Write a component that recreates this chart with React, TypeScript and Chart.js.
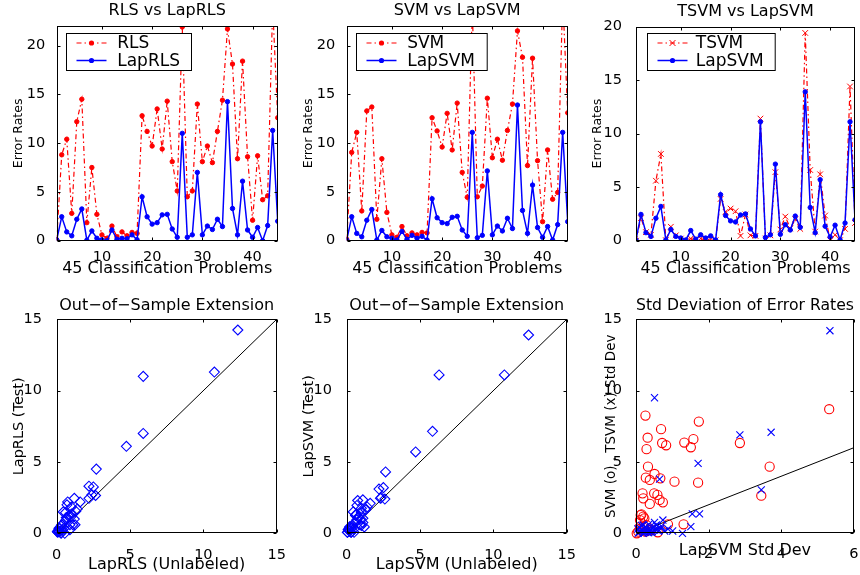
import React, { useEffect, useRef } from "react";
import { Chart, registerables } from "chart.js";

Chart.register(...registerables);

const FONT = "'DejaVu Sans', 'Liberation Sans', sans-serif";
const RED = "#ff0000";
const BLUE = "#0000ff";
const BLACK = "#000000";
const DASHDOT = [5, 3, 1.5, 3];

// ---------- data ----------
const problems = [
  1, 2, 3, 4, 5, 6, 7, 8, 9, 10, 11, 12, 13, 14, 15, 16, 17, 18, 19, 20, 21, 22, 23,
  24, 25, 26, 27, 28, 29, 30, 31, 32, 33, 34, 35, 36, 37, 38, 39, 40, 41, 42, 43, 44, 45,
];

const rls = [
  0.1, 8.8, 10.4, 2.8, 12.2, 14.5, 1.85, 7.5, 2.7, 0.6, 0.25, 1.5, 0.4, 0.9, 0.5, 0.85, 0.75,
  12.8, 11.2, 9.7, 13.5, 9.4, 14.3, 8.1, 5.1, 21.9, 4.5, 5.1, 14.0, 8.1, 9.7, 8.0, 11.2, 14.4,
  21.7, 18.1, 8.4, 18.4, 8.6, 2.1, 8.7, 4.2, 4.6, 24, 12.6,
];
const lapRls = [
  0.1, 2.45, 0.9, 0.5, 2.2, 3.25, 0.05, 1.0, 0.25, 0.1, 0.0, 1.1, 0.15, 0.25, 0.2, 0.6, 0.1,
  4.5, 2.45, 1.7, 1.85, 2.65, 2.7, 1.2, 0.35, 11.0, 0.35, 0.6, 7.0, 0.6, 1.5, 1.15, 2.2, 1.45,
  14.25, 3.3, 0.6, 6.1, 1.1, 0.35, 1.35, 0.0, 1.55, 11.3, 2.0,
];
const svm = [
  0.15, 9.05, 11.1, 3.05, 13.3, 13.7, 2.2, 8.4, 2.9, 0.6, 0.35, 1.45, 0.5, 0.8, 0.6, 0.85, 0.8,
  12.6, 11.25, 9.6, 13.05, 9.3, 14.1, 7.0, 4.45, 24, 4.5, 5.6, 14.6, 8.5, 10.4, 8.25, 11.3, 14.0,
  21.5, 18.8, 7.7, 18.7, 8.2, 1.95, 9.3, 4.25, 4.95, 25, 13.1,
];
const lapSvm = [
  0.07, 2.45, 0.75, 0.4, 2.1, 3.2, 0.07, 1.05, 0.4, 0.25, 0.07, 0.95, 0.15, 0.55, 0.25, 0.45, 0.07,
  4.3, 2.35, 1.85, 1.75, 2.4, 2.5, 1.1, 0.45, 11.1, 0.3, 0.55, 7.15, 0.6, 1.5, 1.0, 2.3, 1.25,
  13.9, 3.1, 0.75, 5.7, 1.35, 0.35, 1.45, 0.07, 1.65, 11.1, 1.95,
];
const tsvm = [
  0.0, 2.1, 0.8, 0.55, 5.6, 8.1, 0.05, 1.3, 0.5, 0.2, 0.0, 0.2, 0.05, 0.2, 0.05, 0.15, 0.05,
  3.9, 2.7, 3.0, 2.75, 0.45, 2.45, 0.5, 0.45, 11.4, 0.2, 0.5, 6.4, 1.05, 2.25, 1.15, 2.0, 1.1,
  19.4, 6.6, 0.85, 6.2, 2.35, 0.05, 0.55, 0.05, 1.1, 14.4, 1.65,
];

// out-of-sample: error on unlabeled (x) vs test (y = lapRls / lapSvm)
const lapRlsUnlabeled = [
  0.05, 2.2, 0.6, 0.3, 1.6, 2.5, 0.3, 1.2, 0.4, 0.15, 0.55, 0.7, 0.2, 0.9, 0.1, 1.25, 0.05,
  2.7, 1.2, 1.4, 1.0, 2.65, 2.4, 0.8, 0.2, 5.9, 0.5, 0.35, 5.9, 0.9, 0.45, 0.95, 0.75, 0.6,
  12.35, 2.2, 1.1, 4.75, 0.65, 0.15, 1.0, 0.3, 1.3, 10.75, 0.7,
];
const lapSvmUnlabeled = [
  0.05, 2.3, 0.6, 0.3, 1.6, 2.5, 0.3, 1.1, 0.4, 0.15, 0.5, 0.7, 0.2, 1.0, 0.1, 1.2, 0.05,
  2.65, 1.1, 1.4, 1.0, 2.6, 2.35, 0.8, 0.2, 6.3, 0.5, 0.35, 5.85, 0.9, 0.45, 0.95, 0.75, 0.6,
  12.4, 2.2, 1.1, 4.7, 0.65, 0.15, 1.0, 0.3, 1.3, 10.75, 0.7,
];

// std deviation scatter
const svmStdX = [
  5.32, 1.73, 0.26, 0.69, 0.32, 0.72, 0.83, 1.33, 1.58, 1.51, 2.86, 0.29, 0.33, 3.68, 0.51,
  0.67, 0.27, 0.38, 1.06, 1.71, 0.18, 0.5, 0.59, 0.2, 0.65, 0.74, 0.38, 3.45, 0.15, 0.2, 0.11,
  0.29, 0.88, 1.31, 0.06, 0.15, 0.2, 0.02, 0.35, 0.23, 0.13, 0.42, 0.6, 0.11, 0.26,
];
const svmStdY = [
  8.7, 7.83, 8.25, 7.3, 6.7, 6.33, 6.17, 6.36, 6.6, 6.03, 6.33, 5.9, 4.67, 4.67, 4.16, 3.85,
  3.9, 3.74, 3.62, 3.55, 2.8, 2.8, 2.69, 2.45, 2.34, 2.17, 2.06, 2.64, 1.33, 1.17, 0.93, 0.58,
  0.63, 0.63, 0.12, 0.23, 0.4, 0.0, 0.23, 1.05, 1.28, 0.23, 0.07, 0.47, 0.12,
];
const tsvmStdX = [
  5.34, 0.51, 2.86, 3.72, 1.71, 0.65, 3.45, 1.55, 1.75, 1.51, 1.28, 0.74, 0.51, 0.35, 0.2,
  0.69, 1.01, 0.79, 0.6, 0.42, 0.24, 0.11, 0.06, 0.29, 0.47, 0.15, 0.56, 0.88, 0.2, 0.38, 0.1,
  0.3, 0.45, 0.55, 0.7, 0.25, 0.35, 0.05, 0.15, 0.4, 0.62, 0.33, 0.18, 0.08, 0.5,
];
const tsvmStdY = [
  14.2, 9.5, 6.9, 7.08, 4.9, 3.8, 3.04, 1.36, 1.36, 0.47, 0.0, 0.93, 0.77, 0.63, 0.58, 0.35,
  0.16, 0.16, 0.3, 0.07, 0.07, 0.12, 0.0, 0.35, 0.47, 0.23, 0.58, 0.3, 0.0, 0.12, 0.4, 0.2,
  0.1, 0.25, 0.5, 0.45, 0.05, 0.3, 0.55, 0.28, 0.15, 0.05, 0.18, 0.08, 0.22,
];

const problemTicks = [10, 20, 30, 40];
const errorTicks = [0, 5, 10, 15, 20];
const squareTicks = [0, 5, 10, 15];
const stdXTicks = [0, 2, 4, 6];
const diagonal15 = [0, 15];
const diagonal6 = [0, 6];

// ---------- helpers ----------
const toXY = (xs: number[], ys: number[]) => xs.map((x, i) => ({ x, y: ys[i] }));
const font = (size: number) => ({ family: FONT, size, weight: "normal" as const });

const framePlugin = {
  id: "matlabFrame",
  afterDatasetsDraw(chart: any) {
    const { ctx, chartArea: a, scales } = chart;
    const l = Math.round(a.left) + 0.5;
    const r = Math.round(a.right) - 0.5;
    const t = Math.round(a.top) + 0.5;
    const b = Math.round(a.bottom) - 0.5;
    ctx.save();
    ctx.setLineDash([]);
    ctx.strokeStyle = BLACK;
    ctx.lineWidth = 1;
    ctx.strokeRect(l, t, r - l, b - t);
    const L = 3;
    ctx.beginPath();
    for (const tk of scales.x.ticks) {
      const px = Math.round(scales.x.getPixelForValue(tk.value)) + 0.5;
      ctx.moveTo(px, b);
      ctx.lineTo(px, b - L);
      ctx.moveTo(px, t);
      ctx.lineTo(px, t + L);
    }
    for (const tk of scales.y.ticks) {
      const py = Math.round(scales.y.getPixelForValue(tk.value)) + 0.5;
      ctx.moveTo(l, py);
      ctx.lineTo(l + L, py);
      ctx.moveTo(r, py);
      ctx.lineTo(r - L, py);
    }
    ctx.stroke();
    ctx.restore();
  },
};

type LegendItem = { label: string; color: string; dash: number[]; marker: "dot" | "x" };

function boxLegend(items: LegendItem[], dx: number, dy: number, w: number, textX: number) {
  return {
    id: "boxLegend",
    afterDraw(chart: any) {
      const { ctx, chartArea: a } = chart;
      const x0 = Math.round(a.left + dx) + 0.5;
      const y0 = Math.round(a.top + dy) + 0.5;
      const h = 37;
      ctx.save();
      ctx.fillStyle = "#ffffff";
      ctx.fillRect(x0, y0, w, h);
      ctx.strokeStyle = BLACK;
      ctx.lineWidth = 1;
      ctx.setLineDash([]);
      ctx.strokeRect(x0, y0, w, h);
      items.forEach((it, k) => {
        const cy = y0 + 9.5 + k * 17.5;
        ctx.strokeStyle = it.color;
        ctx.lineWidth = it.dash.length ? 1.2 : 1.5;
        ctx.setLineDash(it.dash);
        ctx.beginPath();
        ctx.moveTo(x0 + 10, cy);
        ctx.lineTo(x0 + 40, cy);
        ctx.stroke();
        ctx.setLineDash([]);
        const mx = x0 + 25;
        if (it.marker === "dot") {
          ctx.fillStyle = it.color;
          ctx.beginPath();
          ctx.arc(mx, cy, 2.6, 0, Math.PI * 2);
          ctx.fill();
        } else {
          ctx.lineWidth = 1;
          ctx.beginPath();
          ctx.moveTo(mx - 3, cy - 3);
          ctx.lineTo(mx + 3, cy + 3);
          ctx.moveTo(mx + 3, cy - 3);
          ctx.lineTo(mx - 3, cy + 3);
          ctx.stroke();
        }
        ctx.fillStyle = BLACK;
        ctx.font = `17px ${FONT}`;
        ctx.textAlign = "left";
        ctx.textBaseline = "middle";
        ctx.fillText(it.label, x0 + textX, cy + 1);
      });
      ctx.restore();
    },
  };
}

type Spec = {
  type: "line" | "scatter";
  datasets: any[];
  plugins: any[];
  title: string;
  titlePad: { top: number; bottom: number };
  xTitle: string;
  xTitleSize: number;
  xTitlePadBottom: number;
  yTitle: string;
  yTitleSize: number;
  yTitlePadTop: number;
  xMin: number;
  xMax: number;
  yMin: number;
  yMax: number;
  xTicks: number[];
  yTicks: number[];
  xTickPad: number;
  yTickPad: number;
  yAxisWidth: number;
  xAxisHeight: number;
  padRight: number;
};

function buildConfig(s: Spec): any {
  return {
    type: s.type,
    data: { datasets: s.datasets },
    plugins: s.plugins,
    options: {
      animation: false,
      responsive: false,
      maintainAspectRatio: false,
      events: [],
      layout: { padding: { left: 0, right: s.padRight, top: 0, bottom: 0 } },
      plugins: {
        legend: { display: false },
        tooltip: { enabled: false },
        title: {
          display: true,
          text: s.title,
          fullSize: false,
          color: BLACK,
          font: font(16),
          padding: s.titlePad,
        },
      },
      scales: {
        x: {
          type: "linear",
          min: s.xMin,
          max: s.xMax,
          grid: { display: false },
          border: { display: false },
          ticks: {
            color: BLACK,
            font: font(14.5),
            padding: s.xTickPad,
            maxRotation: 0,
            autoSkip: false,
          },
          title: {
            display: true,
            text: s.xTitle,
            color: BLACK,
            font: font(s.xTitleSize),
            padding: { top: 0, bottom: s.xTitlePadBottom },
          },
          afterBuildTicks: (sc: any) => {
            sc.ticks = s.xTicks.map((v) => ({ value: v }));
          },
          afterFit: (sc: any) => {
            sc.height = s.xAxisHeight;
            sc.paddingLeft = 0;
            sc.paddingRight = 0;
          },
        },
        y: {
          type: "linear",
          min: s.yMin,
          max: s.yMax,
          grid: { display: false },
          border: { display: false },
          ticks: { color: BLACK, font: font(14.5), padding: s.yTickPad, autoSkip: false },
          title: {
            display: true,
            text: s.yTitle,
            color: BLACK,
            font: font(s.yTitleSize),
            padding: { top: s.yTitlePadTop, bottom: 0 },
          },
          afterBuildTicks: (sc: any) => {
            sc.ticks = s.yTicks.map((v) => ({ value: v }));
          },
          afterFit: (sc: any) => {
            sc.width = s.yAxisWidth;
            sc.paddingTop = 0;
            sc.paddingBottom = 0;
          },
        },
      },
    },
  };
}

function lineSet(label: string, xs: number[], ys: number[], color: string, dashed: boolean, marker: "dot" | "x", order: number) {
  return {
    label,
    data: toXY(xs, ys),
    borderColor: color,
    backgroundColor: color,
    borderWidth: dashed ? 1.2 : 1.5,
    borderDash: dashed ? DASHDOT : [],
    pointStyle: marker === "dot" ? "circle" : "crossRot",
    pointRadius: marker === "dot" ? 2.2 : 4,
    pointBorderWidth: 1,
    pointBackgroundColor: color,
    pointBorderColor: color,
    tension: 0,
    fill: false,
    order,
  };
}

function diagSet(ends: number[]) {
  return {
    label: "y = x",
    type: "line",
    data: toXY(ends, ends),
    borderColor: BLACK,
    borderWidth: 1,
    pointRadius: 0,
    showLine: true,
    fill: false,
    order: 5,
  };
}

function markerSet(label: string, xs: number[], ys: number[], color: string, style: string, radius: number, order: number) {
  return {
    label,
    data: toXY(xs, ys),
    borderColor: color,
    backgroundColor: "rgba(0,0,0,0)",
    pointStyle: style,
    pointRadius: radius,
    pointBorderWidth: 1.1,
    pointBorderColor: color,
    pointBackgroundColor: "rgba(0,0,0,0)",
    showLine: false,
    clip: 6,
    order,
  };
}

const topCommon = {
  type: "line" as const,
  titlePad: { top: 1.1, bottom: 5.7 },
  xTitle: "45 Classification Problems",
  xTitleSize: 16,
  xTitlePadBottom: 6.4,
  yTitle: "Error Rates",
  yTitleSize: 12.5,
  xMin: 1,
  xMax: 45,
  xTicks: problemTicks,
  yTicks: errorTicks,
  yMin: 0,
  xTickPad: 0,
  xAxisHeight: 44.3,
};

const panels = [
  {
    left: 0, top: 0, width: 290, height: 285,
    spec: {
      ...topCommon,
      title: "RLS vs LapRLS",
      yMax: 22,
      yTitlePadTop: 10.8,
      yTickPad: 3.4,
      yAxisWidth: 56.7,
      padRight: 12.3,
      datasets: [
        lineSet("LapRLS", problems, lapRls, BLUE, false, "dot", 0),
        lineSet("RLS", problems, rls, RED, true, "dot", 1),
      ],
      plugins: [
        framePlugin,
        boxLegend(
          [
            { label: "RLS", color: RED, dash: DASHDOT, marker: "dot" },
            { label: "LapRLS", color: BLUE, dash: [], marker: "dot" },
          ],
          9.5, 7.3, 125, 50.7
        ),
      ],
    },
  },
  {
    left: 290, top: 0, width: 290, height: 285,
    spec: {
      ...topCommon,
      title: "SVM vs LapSVM",
      yMax: 22,
      yTitlePadTop: 10.8,
      yTickPad: 3.4,
      yAxisWidth: 56.7,
      padRight: 12.3,
      datasets: [
        lineSet("LapSVM", problems, lapSvm, BLUE, false, "dot", 0),
        lineSet("SVM", problems, svm, RED, true, "dot", 1),
      ],
      plugins: [
        framePlugin,
        boxLegend(
          [
            { label: "SVM", color: RED, dash: DASHDOT, marker: "dot" },
            { label: "LapSVM", color: BLUE, dash: [], marker: "dot" },
          ],
          9.3, 7.3, 130.7, 50.7
        ),
      ],
    },
  },
  {
    left: 580, top: 0, width: 280, height: 285,
    spec: {
      ...topCommon,
      titlePad: { top: 2, bottom: 5.3 },
      title: "TSVM vs LapSVM",
      yMax: 20,
      yTitlePadTop: 10,
      yTickPad: 6,
      yAxisWidth: 56,
      padRight: 2.3,
      datasets: [
        lineSet("LapSVM", problems, lapSvm, BLUE, false, "dot", 0),
        lineSet("TSVM", problems, tsvm, RED, true, "x", 1),
      ],
      plugins: [
        framePlugin,
        boxLegend(
          [
            { label: "TSVM", color: RED, dash: DASHDOT, marker: "x" },
            { label: "LapSVM", color: BLUE, dash: [], marker: "dot" },
          ],
          10.7, 6.2, 127.7, 48.3
        ),
      ],
    },
  },
  {
    left: 0, top: 285, width: 290, height: 290,
    spec: {
      type: "scatter" as const,
      title: "Out\u2212of\u2212Sample Extension",
      titlePad: { top: 11.1, bottom: 4 },
      xTitle: "LapRLS (Unlabeled)",
      xTitleSize: 16,
      xTitlePadBottom: 0.4,
      yTitle: "LapRLS (Test)",
      yTitleSize: 14.5,
      yTitlePadTop: 10.6,
      xMin: 0, xMax: 15, yMin: 0, yMax: 15,
      xTicks: squareTicks, yTicks: squareTicks,
      xTickPad: 5.3, yTickPad: 6.7,
      yAxisWidth: 56.7, xAxisHeight: 41.7, padRight: 13.3,
      datasets: [
        markerSet("LapRLS", lapRlsUnlabeled, lapRls, BLUE, "rectRot", 5, 0),
        diagSet(diagonal15),
      ],
      plugins: [framePlugin],
    },
  },
  {
    left: 290, top: 285, width: 290, height: 290,
    spec: {
      type: "scatter" as const,
      title: "Out\u2212of\u2212Sample Extension",
      titlePad: { top: 11.1, bottom: 4 },
      xTitle: "LapSVM (Unlabeled)",
      xTitleSize: 16,
      xTitlePadBottom: 0.4,
      yTitle: "LapSVM (Test)",
      yTitleSize: 14.5,
      yTitlePadTop: 10.6,
      xMin: 0, xMax: 15, yMin: 0, yMax: 15,
      xTicks: squareTicks, yTicks: squareTicks,
      xTickPad: 5.3, yTickPad: 6.7,
      yAxisWidth: 56.7, xAxisHeight: 41.7, padRight: 13.3,
      datasets: [
        markerSet("LapSVM", lapSvmUnlabeled, lapSvm, BLUE, "rectRot", 5, 0),
        diagSet(diagonal15),
      ],
      plugins: [framePlugin],
    },
  },
  {
    left: 580, top: 285, width: 280, height: 290,
    spec: {
      type: "scatter" as const,
      title: "Std Deviation of Error Rates",
      titlePad: { top: 11.1, bottom: 4 },
      xTitle: "LapSVM Std Dev",
      xTitleSize: 16,
      xTitlePadBottom: 14.7,
      yTitle: "SVM (o) , TSVM (x) Std Dev",
      yTitleSize: 13.5,
      yTitlePadTop: 23.6,
      xMin: 0, xMax: 6, yMin: 0, yMax: 15,
      xTicks: stdXTicks, yTicks: squareTicks,
      xTickPad: 4.5, yTickPad: 6,
      yAxisWidth: 56, xAxisHeight: 41.7, padRight: 2.3,
      datasets: [
        markerSet("TSVM", tsvmStdX, tsvmStdY, BLUE, "crossRot", 5, 0),
        markerSet("SVM", svmStdX, svmStdY, RED, "circle", 4.6, 1),
        diagSet(diagonal6),
      ],
      plugins: [framePlugin],
    },
  },
];

function Panel({ left, top, width, height, spec }: any) {
  const ref = useRef<HTMLCanvasElement>(null);
  useEffect(() => {
    const chart = new Chart(ref.current as HTMLCanvasElement, buildConfig(spec));
    return () => chart.destroy();
  }, []);
  return (
    <div style={{ position: "absolute", left, top, width, height }}>
      <canvas ref={ref} width={width} height={height} style={{ width, height, display: "block" }} />
    </div>
  );
}

export default function App() {
  return (
    <div style={{ position: "absolute", left: 0, top: 0, width: 860, height: 575, background: "#ffffff", overflow: "hidden" }}>
      {panels.map((p, i) => (
        <Panel key={i} {...p} />
      ))}
    </div>
  );
}
